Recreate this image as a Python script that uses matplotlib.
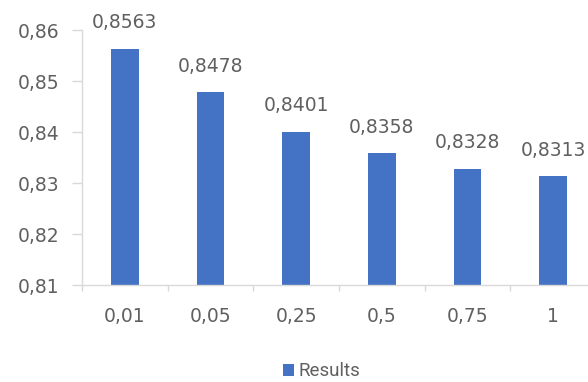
import matplotlib.pyplot as plt
from matplotlib.ticker import FixedLocator, FuncFormatter

# Data
categories = ['0,01', '0,05', '0,25', '0,5', '0,75', '1']
results = [0.8563, 0.8478, 0.8401, 0.8358, 0.8328, 0.8313]
y_ticks = [0.81, 0.82, 0.83, 0.84, 0.85, 0.86]

bar_color = '#4472C4'
text_color = '#606060'
axis_color = '#D9D9D9'

plt.rcParams['font.family'] = ['DejaVu Sans']

fig = plt.figure(figsize=(5.88, 3.82), dpi=100)
ax = fig.add_axes([0.1395, 0.2539, 0.874, 0.6675])

x = list(range(len(categories)))
bars = ax.bar(x, results, width=0.32, color=bar_color, label='Results', zorder=2)

# value labels above each bar
for xi, v in zip(x, results):
    ax.annotate(f'{v:.4f}'.replace('.', ','), (xi, v), xytext=(0, 26),
                textcoords='offset pixels', ha='center', va='center',
                fontsize=13.5, color=text_color, annotation_clip=False)

ax.set_xlim(-0.5, len(categories) - 0.5)
ax.set_ylim(y_ticks[0], y_ticks[-1])
ax.set_yticks(y_ticks)
ax.yaxis.set_major_formatter(FuncFormatter(lambda v, p: f'{v:.2f}'.replace('.', ',')))

ax.set_xticks(x)
ax.set_xticklabels(categories)
ax.xaxis.set_minor_locator(FixedLocator([i - 0.5 for i in range(len(categories) + 1)]))

ax.tick_params(axis='y', length=7, width=1, color=axis_color, pad=9,
               labelsize=13.5, labelcolor=text_color)
ax.tick_params(axis='x', which='major', length=0, pad=16,
               labelsize=13.5, labelcolor=text_color)
ax.tick_params(axis='x', which='minor', length=4, width=1, color=axis_color)

for side in ['top', 'right']:
    ax.spines[side].set_visible(False)
for side in ['left', 'bottom']:
    ax.spines[side].set_color(axis_color)
    ax.spines[side].set_linewidth(1)

leg = fig.legend(handles=[bars], labels=['Results'], loc='center',
                 bbox_to_anchor=(0.547, 0.028), frameon=False,
                 handlelength=0.6, handleheight=0.6, handletextpad=0.25,
                 prop={'family': 'Roboto', 'size': 13.5})
for t in leg.get_texts():
    t.set_color(text_color)

fig.savefig('out.png', dpi=100)
